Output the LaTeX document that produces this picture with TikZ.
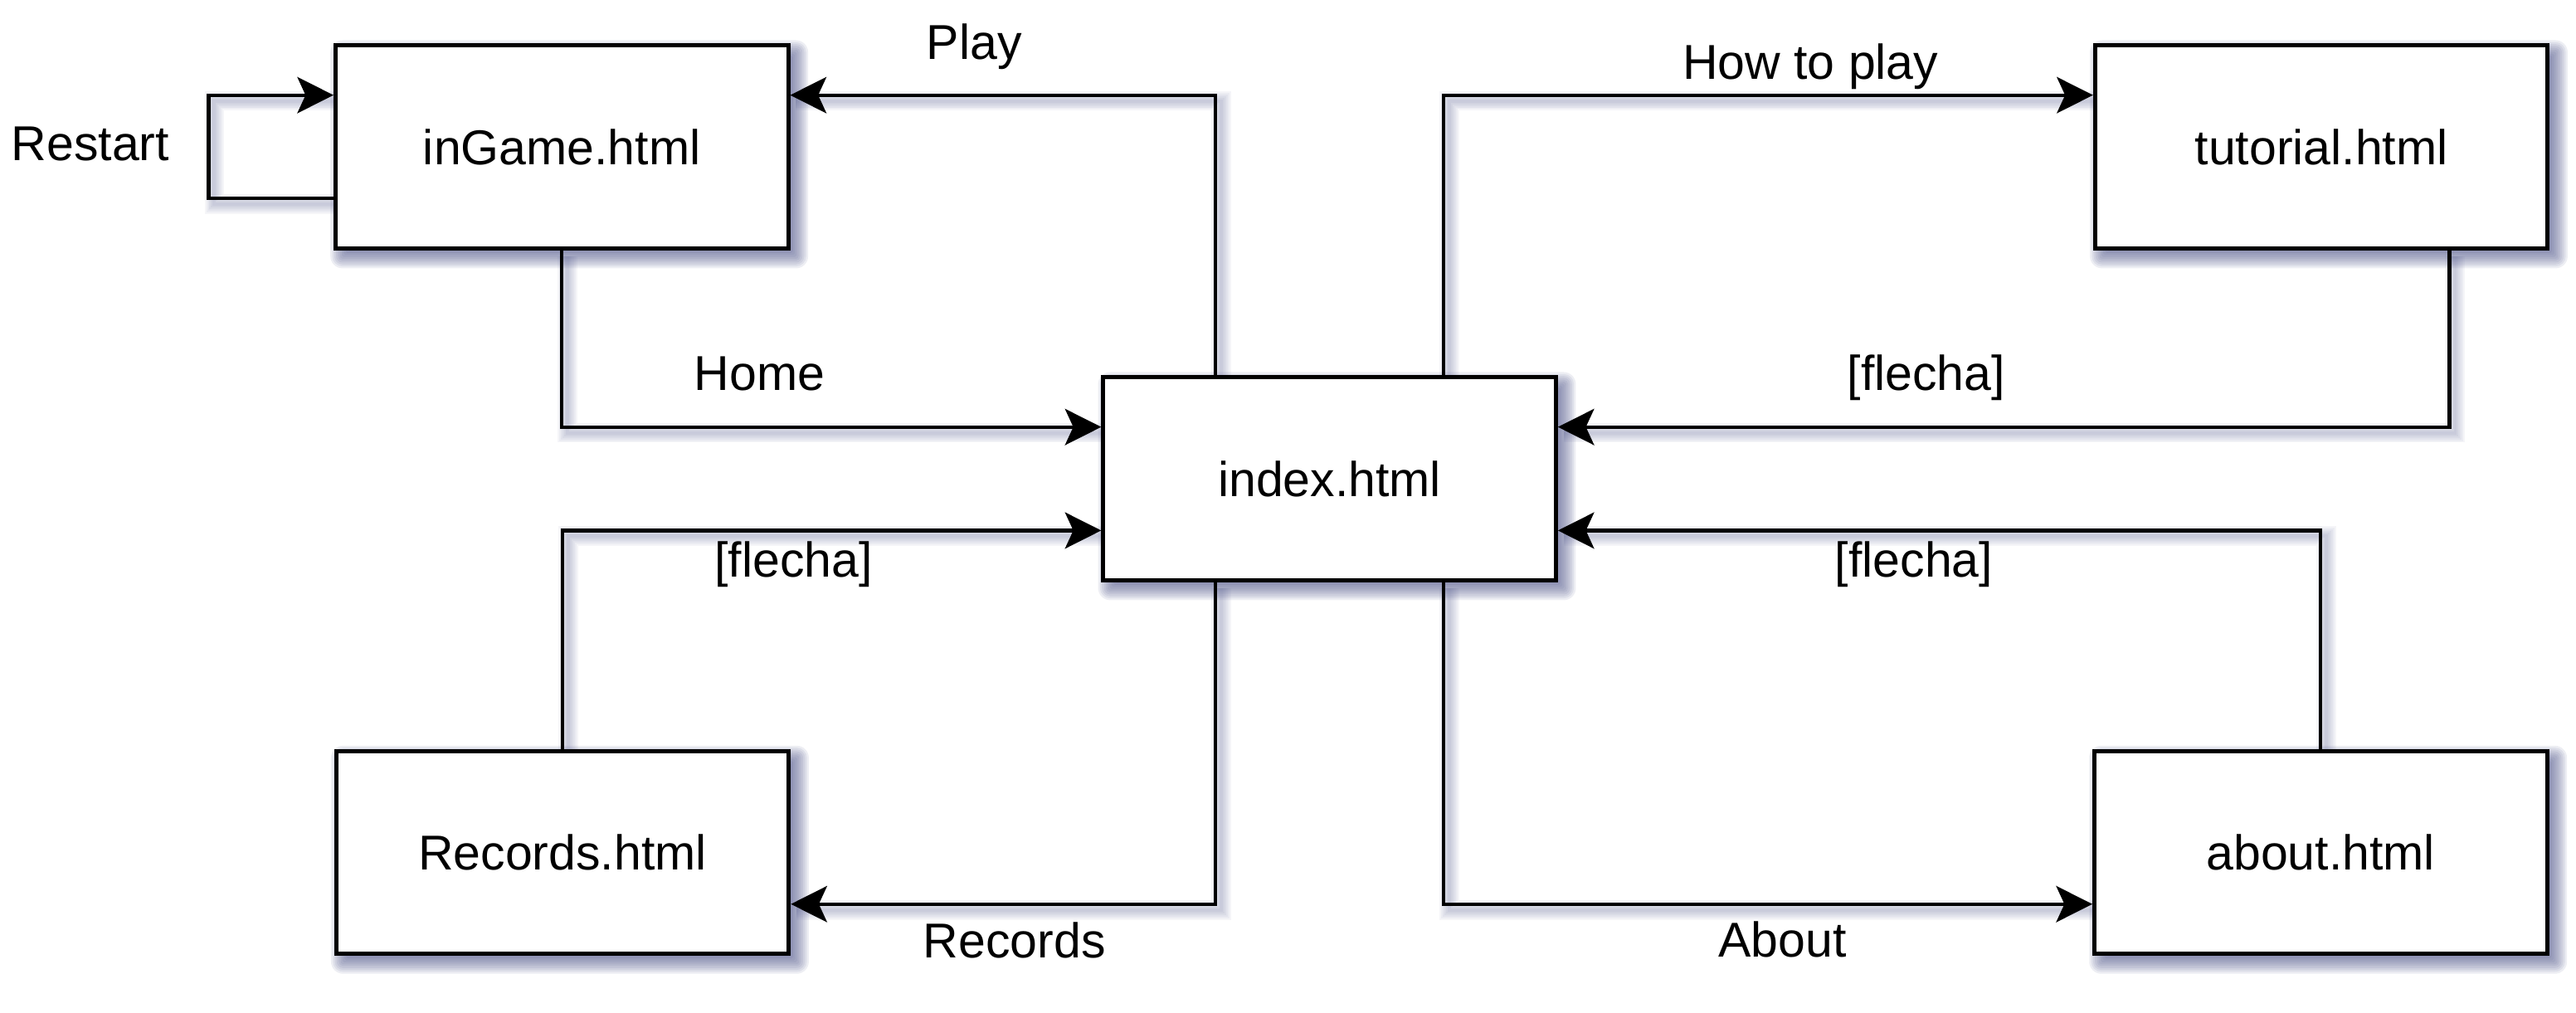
\documentclass[tikz,border=0pt]{standalone}
\usepackage{fontspec}
\setmainfont{Liberation Sans}
\usetikzlibrary{arrows.meta,calc}
\pgfdeclarelayer{background}
\pgfsetlayers{background,main}
\definecolor{shadowcol}{RGB}{80,86,138}
\tikzset{
  page/.style={draw=black, line width=2.5pt, fill=white, minimum width=275.5pt,
    minimum height=123.5pt, inner sep=0pt, font=\fontsize{29.8}{34}\selectfont},
  lbl/.style={inner sep=0pt, anchor=base, font=\fontsize{29.8}{34}\selectfont},
  conn/.style={draw=black, line width=2.1pt, -{Stealth[length=22pt,width=22pt,inset=5pt]}},
  shline/.style={draw=shadowcol, opacity=0.06, transform canvas={shift={(3.5pt,-3.5pt)}}},
}
\newcommand\pageshadow[1]{%
  \foreach \k in {1,...,12}{%
    \pgfmathsetmacro\e{-7+14/12*(\k-0.5)}%
    \pgfmathsetmacro\rc{max(\e,0)+1}%
    \pgfmathsetmacro\sa{4.5-\e}%
    \pgfmathsetmacro\sb{4.5+\e}%
    \fill[shadowcol, opacity=0.1, rounded corners=\rc pt]
      ([shift={(\sa,\sa)}]#1.north west) rectangle ([shift={(\sb,\sb)}]#1.south east);
  }%
}
\newcommand\connect[1]{%
  \begin{pgfonlayer}{background}
    \foreach \w in {2,4,6,8,10,12}{\draw[shline, line width=\w pt] #1;}
  \end{pgfonlayer}
  \draw[conn] #1;
}
\begin{document}
\begin{tikzpicture}[x=1pt,y=-1pt]
\useasboundingbox (0,0) rectangle (1568,616.1);
% pages
\node[page] (ingame) at (342,89.4) {inGame.html};
\node[page] (tutorial) at (1413,89.4) {tutorial.html};
\node[page] (index) at (809.3,291.4) {index.html};
\node[page] (records) at (342.4,518.8) {Records.html};
\node[page] (about) at (1412.6,518.8) {about.html};
% shadows of pages
\begin{pgfonlayer}{background}
  \pageshadow{ingame}
  \pageshadow{tutorial}
  \pageshadow{index}
  \pageshadow{records}
  \pageshadow{about}
\end{pgfonlayer}
% connectors
\connect{([xshift=-69.5pt]index.north) |- ([yshift=31.5pt]ingame.east)}
\connect{([yshift=-31.5pt]ingame.west) -- ++(-76,0) |- ([yshift=31.5pt]ingame.west)}
\connect{(ingame.south) |- ([yshift=31.5pt]index.west)}
\connect{([xshift=69.5pt]index.north) |- ([yshift=31.5pt]tutorial.west)}
\connect{([xshift=78pt]tutorial.south) |- ([yshift=31.5pt]index.east)}
\connect{(about.north) |- ([yshift=-31.5pt]index.east)}
\connect{(records.north) |- ([yshift=-31.5pt]index.west)}
\connect{([xshift=-69.5pt]index.south) |- ([yshift=-31.5pt]records.east)}
\connect{([xshift=69.5pt]index.south) |- ([yshift=-31.5pt]about.west)}
% labels
\node[lbl] (lplay) at (593,35.9) {Play};
\node[lbl] (lrestart) at (55,97.6) {Restart};
\node[lbl] (lhome) at (462.4,237.4) {Home};
\node[lbl] (lhow) at (1102,48) {How to play};
\node[lbl] (lflecha1) at (1172.5,237.4) {[flecha]};
\node[lbl] (lflecha2) at (1165,351) {[flecha]};
\node[lbl] (lflecha3) at (483,351) {[flecha]};
\node[lbl] (lrecords) at (617.5,582.8) {Records};
\node[lbl] (labout) at (1085,582.5) {About};
\end{tikzpicture}
\end{document}
